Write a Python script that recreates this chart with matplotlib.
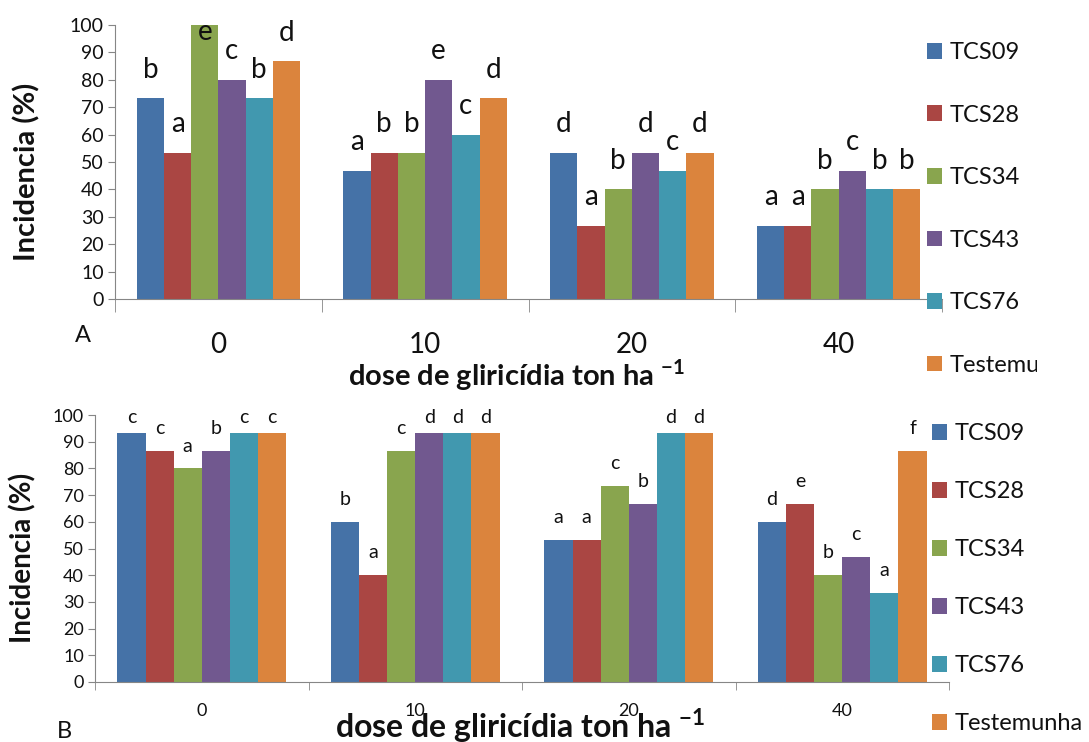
import numpy as np
import matplotlib
matplotlib.use('Agg')
import matplotlib.pyplot as plt
from matplotlib.transforms import Bbox, TransformedBbox

plt.rcParams['font.family'] = ['Lato', 'DejaVu Sans']
plt.rcParams['mathtext.fontset'] = 'custom'
plt.rcParams['mathtext.rm'] = 'Lato'
plt.rcParams['mathtext.bf'] = 'Lato:bold'

# dose categories and series
doses = ['0', '10', '20', '40']
series = ['TCS09', 'TCS28', 'TCS34', 'TCS43', 'TCS76', 'Testemunha']
colors = ['#4572A7', '#AA4643', '#89A54E', '#71588F', '#4198AF', '#DB843D']

# panel A values (%)
tcs09_a = [73.3, 46.7, 53.3, 26.7]
tcs28_a = [53.3, 53.3, 26.7, 26.7]
tcs34_a = [100, 53.3, 40, 40]
tcs43_a = [80, 80, 53.3, 46.7]
tcs76_a = [73.3, 60, 46.7, 40]
test_a = [86.7, 73.3, 53.3, 40]

# panel A letters
let09_a = ['b', 'a', 'd', 'a']
let28_a = ['a', 'b', 'a', 'a']
let34_a = ['e', 'b', 'b', 'b']
let43_a = ['c', 'e', 'd', 'c']
let76_a = ['b', 'c', 'c', 'b']
lettest_a = ['d', 'd', 'd', 'b']

# panel B values (%)
tcs09_b = [93.3, 60, 53.3, 60]
tcs28_b = [86.7, 40, 53.3, 66.7]
tcs34_b = [80, 86.7, 73.3, 40]
tcs43_b = [86.7, 93.3, 66.7, 46.7]
tcs76_b = [93.3, 93.3, 93.3, 33.3]
test_b = [93.3, 93.3, 93.3, 86.7]

# panel B letters
let09_b = ['c', 'b', 'a', 'd']
let28_b = ['c', 'a', 'a', 'e']
let34_b = ['a', 'c', 'c', 'b']
let43_b = ['b', 'd', 'b', 'c']
let76_b = ['c', 'd', 'd', 'a']
lettest_b = ['c', 'd', 'd', 'f']

W, H = 1089, 742
fig = plt.figure(figsize=(W / 100, H / 100), dpi=100)

spine_col = '#868686'


def panel(rect, vals, lets, ysz, xsz, lsz, xpad, xticklen, off, cap):
    ax = fig.add_axes(rect)
    x = np.arange(len(doses))
    w = 0.79 / 6
    bars = []
    for i, (v, l) in enumerate(zip(vals, lets)):
        b = ax.bar(x + (i - 2.5) * w, v, w, color=colors[i], label=series[i])
        bars.append(b)
        for xi, vi, li in zip(x + (i - 2.5) * w, v, l):
            ax.text(xi, min(vi + off, cap), li, ha='center', va='baseline',
                    fontsize=lsz, color='#111111')
    ax.set_xlim(-0.5, 3.5)
    ax.set_ylim(0, 100)
    ax.set_yticks(np.arange(0, 101, 10))
    ax.set_xticks(x)
    ax.set_xticklabels(doses)
    ax.set_xticks(np.arange(-0.5, 3.6, 1), minor=True)
    ax.tick_params(axis='x', which='major', length=0, pad=xpad, labelsize=xsz, labelcolor='#111111')
    ax.tick_params(axis='x', which='minor', length=xticklen, color=spine_col, direction='out')
    ax.tick_params(axis='y', length=5, color=spine_col, labelsize=ysz, labelcolor='#111111', pad=3)
    for s in ['top', 'right']:
        ax.spines[s].set_visible(False)
    for s in ['left', 'bottom']:
        ax.spines[s].set_color(spine_col)
    return ax, bars


# panel A
axA, barsA = panel([115 / W, 1 - 299 / H, 827 / W, 274 / H],
                   [tcs09_a, tcs28_a, tcs34_a, tcs43_a, tcs76_a, test_a],
                   [let09_a, let28_a, let34_a, let43_a, let76_a, lettest_a],
                   14, 20, 20, 24, 9, 7.5, 94.5)
# panel B
axB, barsB = panel([95 / W, 1 - 682 / H, 854 / W, 267 / H],
                   [tcs09_b, tcs28_b, tcs34_b, tcs43_b, tcs76_b, test_b],
                   [let09_b, let28_b, let34_b, let43_b, let76_b, lettest_b],
                   13, 13, 14, 15, 6, 6.3, 97)

# axis titles
fig.text(27 / W, 1 - 172 / H, 'Incidencia (%)', rotation=90, ha='center', va='center',
         fontsize=21, fontweight='bold', color='#111111')
fig.text(23 / W, 1 - 558 / H, 'Incidencia (%)', rotation=90, ha='center', va='center',
         fontsize=20, fontweight='bold', color='#111111')
fig.text(517 / W, 1 - 386 / H, r'dose de gliricídia ton ha $^{\mathbf{-1}}$', ha='center',
         va='baseline', fontsize=21, fontweight='bold', color='#111111')
fig.text(520 / W, 1 - 738 / H, r'dose de gliricídia ton ha $^{\mathbf{-1}}$', ha='center',
         va='baseline', fontsize=23, fontweight='bold', color='#111111')

fig.text(75 / W, 1 - 342 / H, 'A', fontsize=17, color='#111111')
fig.text(57 / W, 1 - 738 / H, 'B', fontsize=17, color='#111111')

# legends
legA = fig.legend(handles=barsA, labels=series, loc='upper left',
                  bbox_to_anchor=(927 / W, 1 - 42 / H), frameon=False, fontsize=17,
                  handlelength=0.64, handleheight=0.64, handletextpad=0.3,
                  labelspacing=1.76, borderpad=0, borderaxespad=0)
legB = fig.legend(handles=barsB, labels=series, loc='upper left',
                  bbox_to_anchor=(932 / W, 1 - 423 / H), frameon=False, fontsize=17,
                  handlelength=0.64, handleheight=0.64, handletextpad=0.3,
                  labelspacing=1.57, borderpad=0, borderaxespad=0)
for t in legA.get_texts() + legB.get_texts():
    t.set_color('#111111')
# the reference cuts the last entry of legend A
clip = TransformedBbox(Bbox([[0, 0.4], [1037 / W, 1]]), fig.transFigure)
for t in legA.get_texts():
    t.set_clip_box(clip)
    t.set_clip_on(True)

fig.savefig('out.png', dpi=100)
